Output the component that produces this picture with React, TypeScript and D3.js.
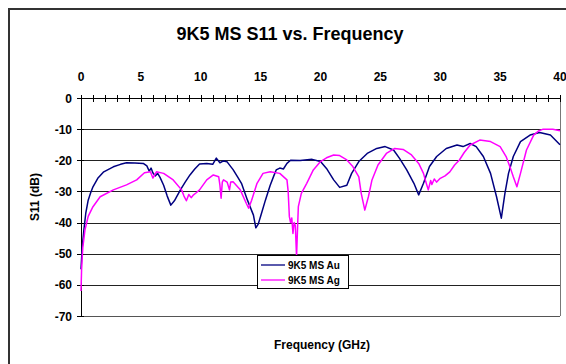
import React from 'react';
import * as d3 from 'd3';

// S11 readings (GHz, dB)
const freqAu = [0, 0.1, 0.25, 0.4, 0.6, 0.8, 1.0, 1.4, 1.9, 2.7, 3.3, 3.8, 4.5, 5.2, 5.5, 5.7, 5.85, 6.0, 6.2, 6.4, 6.6, 6.9, 7.2, 7.5, 7.8, 8.3, 8.7, 9.1, 9.5, 9.9, 10.5, 11.0, 11.3, 11.6, 11.9, 12.2, 12.7, 13.1, 13.4, 13.9, 14.4, 14.6, 14.8, 15.0, 15.4, 15.8, 16.1, 16.3, 16.6, 16.9, 17.2, 17.5, 18.3, 19.3, 20.0, 20.5, 21.1, 21.6, 22.2, 22.6, 23.2, 23.9, 24.7, 25.4, 26.1, 26.6, 27.2, 27.8, 28.2, 28.6, 29.1, 29.7, 30.5, 31.4, 31.9, 32.5, 33.0, 33.6, 34.2, 34.7, 35.1, 35.4, 35.7, 36.1, 36.7, 37.5, 38.3, 39.2, 40.0];
const s11Au = [-55, -48, -42, -37, -32.8, -30.5, -28.5, -25.8, -23.7, -22.1, -21.3, -20.8, -20.9, -21, -21.8, -23.5, -22.5, -24, -25, -24.2, -25.5, -28, -31.5, -34.4, -33, -29.5, -27, -24.7, -22.8, -21.2, -21, -21.3, -19.3, -20.8, -20.2, -20.5, -23, -25.5, -27.4, -32.8, -37.6, -41.7, -40.5, -38, -32.8, -28, -25, -23.1, -22.5, -22.8, -21, -20, -20.1, -19.7, -20.4, -22.6, -26.3, -28.7, -28, -24.2, -20.4, -17.8, -16.2, -15.6, -16.7, -19.4, -23.1, -27.4, -31.1, -27.4, -22, -18.8, -16.2, -15.1, -15.6, -14.6, -15.6, -18.8, -24.2, -31.7, -38.6, -30.6, -24.2, -18.8, -14, -11.9, -11.1, -11.9, -15];

const freqAg = [0, 0.05, 0.15, 0.33, 0.6, 1.0, 1.6, 2.7, 3.8, 4.65, 5.3, 5.8, 6.0, 6.3, 6.9, 7.7, 8.4, 8.6, 8.8, 9.0, 9.2, 9.4, 9.6, 9.9, 10.5, 11.05, 11.5, 11.6, 11.7, 11.8, 11.9, 12.2, 12.4, 12.5, 12.7, 13.3, 13.8, 14.0, 14.25, 14.7, 15.2, 15.8, 16.6, 17.2, 17.3, 17.4, 17.5, 17.6, 17.7, 17.8, 17.9, 18.0, 18.1, 18.15, 18.4, 18.85, 19.4, 20.0, 20.5, 21.1, 21.6, 22.2, 22.7, 23.2, 23.4, 23.7, 24.0, 24.3, 24.8, 25.5, 26.2, 26.9, 27.6, 28.2, 28.6, 28.8, 29.0, 29.2, 29.3, 29.5, 29.7, 30.0, 30.4, 30.8, 31.2, 31.6, 32.0, 32.5, 33.3, 34.2, 35.0, 35.5, 35.9, 36.1, 36.4, 36.7, 37.2, 37.8, 38.2, 38.6, 39.4, 40.0];
const s11Ag = [-62, -55, -48, -42.4, -38, -34.9, -31.7, -29.5, -27.9, -26.3, -24, -23.7, -25.7, -23.7, -24.2, -26.3, -29.5, -31.5, -33, -31, -32, -31.1, -30.5, -29.5, -26.3, -24.7, -25.3, -28, -32.2, -27, -26.3, -27, -29.5, -27, -26.9, -29.5, -33.8, -35.4, -32.8, -27.4, -24.2, -23.7, -24.2, -26.3, -30, -38.1, -40, -38.5, -43.5, -40, -41, -51, -40, -34.9, -30.6, -27.4, -23.1, -20.4, -19.2, -18.3, -18.5, -19.9, -22, -25.3, -30.6, -36, -31.7, -26.3, -21.5, -17.8, -16.2, -16.5, -18.3, -21, -24.2, -27, -29.5, -26.5, -27.8, -26, -27, -25.8, -25, -23.7, -21.5, -19.9, -17.5, -15.1, -13.5, -14, -15.6, -18.8, -23, -25.3, -28.5, -24.2, -16.7, -11.9, -10.6, -10, -10, -10.5];

const xMajor = [0, 5, 10, 15, 20, 25, 30, 35, 40];
const yTicks = [0, -10, -20, -30, -40, -50, -60, -70];
const seriesNames = ['9K5 MS Au', '9K5 MS Ag'];
const seriesColors = ['#000080', '#ff00ff'];

const W = 566;
const H = 364;
const plot = { left: 81, right: 560, top: 98, bottom: 316 };
const font = 'Arial, "Liberation Sans", sans-serif';

export default function App() {
  const x = d3.scaleLinear().domain([0, 40]).range([plot.left, plot.right]);
  const y = d3.scaleLinear().domain([0, -70]).range([plot.top, plot.bottom]);
  const minor = d3.range(0, 41, 1);

  const makePath = (fs: number[], vs: number[]) =>
    d3.line<number>()
      .x((_, i) => x(fs[i]))
      .y((_, i) => y(vs[i]))(fs) || '';

  const series = [
    { name: seriesNames[0], color: seriesColors[0], d: makePath(freqAu, s11Au) },
    { name: seriesNames[1], color: seriesColors[1], d: makePath(freqAg, s11Ag) },
  ];

  return (
    <svg width={W} height={H} style={{ position: 'absolute', left: 0, top: 0, background: '#fff' }} fontFamily={font}>
      <rect x={0} y={0} width={W} height={H} fill="#fff" />
      <rect x={9} y={9} width={W + 10} height={H + 10} fill="#fff" stroke="#333" strokeWidth={2} />

      <text x={290} y={40} textAnchor="middle" fontSize={18} fontWeight="bold">9K5 MS S11 vs. Frequency</text>

      {/* gridlines */}
      {yTicks.slice(1).map(t => (
        <line key={t} x1={plot.left} x2={plot.right} y1={Math.round(y(t)) + 0.5} y2={Math.round(y(t)) + 0.5}
          stroke={t === -70 ? '#555' : '#222'} strokeWidth={1} />
      ))}
      <line x1={plot.right + 0.5} x2={plot.right + 0.5} y1={plot.top} y2={plot.bottom} stroke="#777" />
      <line x1={plot.left + 0.5} x2={plot.left + 0.5} y1={plot.top} y2={plot.bottom + 1} stroke="#000" />
      <line x1={plot.left} x2={plot.right} y1={plot.top + 0.5} y2={plot.top + 0.5} stroke="#000" />

      {/* top axis ticks */}
      {minor.map(t => (
        <line key={t} x1={Math.round(x(t)) + 0.5} x2={Math.round(x(t)) + 0.5} y1={plot.top - 3} y2={plot.top + 4} stroke="#000" />
      ))}
      {xMajor.map(t => (
        <text key={t} x={x(t)} y={plot.top - 17} textAnchor="middle" fontSize={12} fontWeight="bold">{t}</text>
      ))}

      {/* left axis ticks */}
      {yTicks.map(t => (
        <g key={t}>
          <line x1={plot.left - 4} x2={plot.left + 3} y1={Math.round(y(t)) + 0.5} y2={Math.round(y(t)) + 0.5} stroke="#000" />
          <text x={plot.left - 9} y={y(t) + 4.5} textAnchor="end" fontSize={12} fontWeight="bold">{t}</text>
        </g>
      ))}

      <text transform={`translate(39,${(plot.top + plot.bottom) / 2 - 10}) rotate(-90)`} textAnchor="middle" fontSize={12} fontWeight="bold">S11 (dB)</text>
      <text x={322} y={349} textAnchor="middle" fontSize={12} fontWeight="bold">Frequency (GHz)</text>

      {/* series */}
      {series.map(s => (
        <path key={s.name} d={s.d} fill="none" stroke={s.color} strokeWidth={1.5} strokeLinejoin="round" />
      ))}

      {/* legend */}
      <rect x={257.5} y={255.5} width={91} height={33} fill="#fff" stroke="#000" />
      {series.map((s, i) => (
        <g key={s.name}>
          <line x1={261} x2={285} y1={265 + i * 15} y2={265 + i * 15} stroke={s.color} strokeWidth={1.3} />
          <text x={288} y={268.5 + i * 15} fontSize={10} fontWeight="bold">{s.name}</text>
        </g>
      ))}
    </svg>
  );
}
